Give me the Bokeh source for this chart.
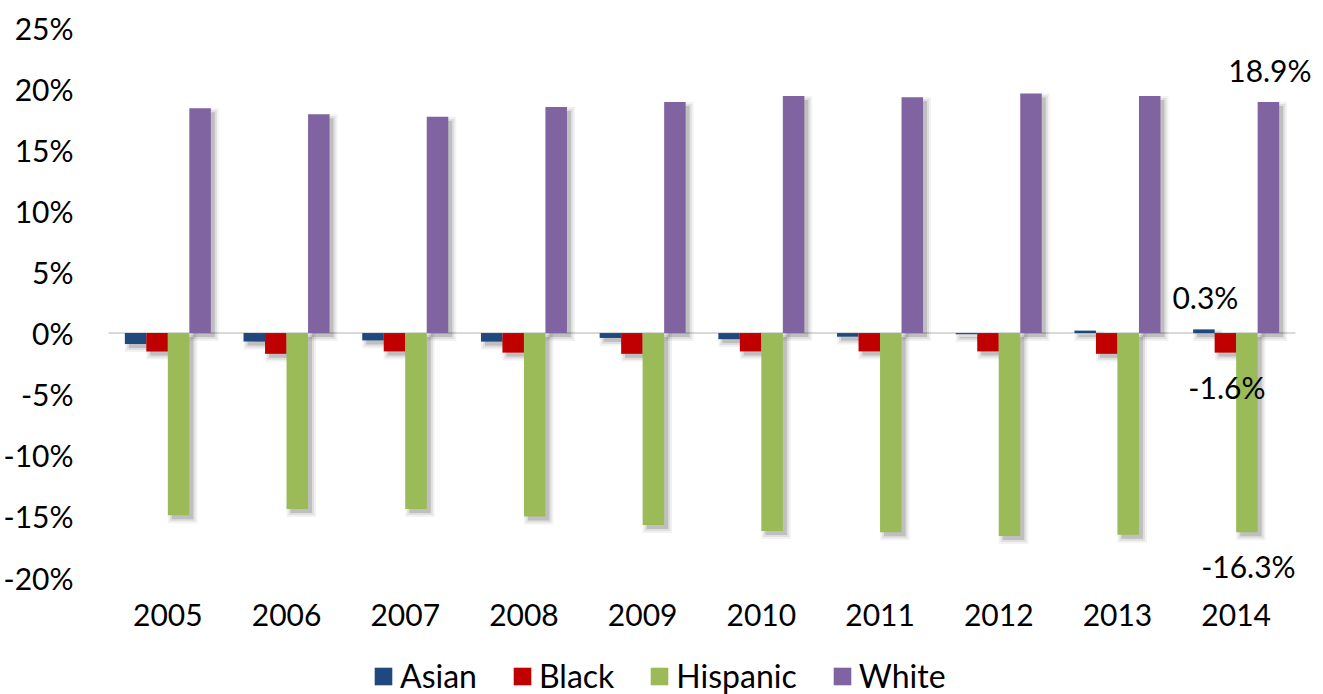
from bokeh.plotting import figure
from bokeh.models import Range1d, FixedTicker, PrintfTickFormatter, Legend, LegendItem, ColumnDataSource
from bokeh.core.properties import value
from bokeh.embed import file_html
from bokeh.resources import INLINE

# ---------------- data ----------------
years = ["2005", "2006", "2007", "2008", "2009", "2010", "2011", "2012", "2013", "2014"]
asian = [-0.9, -0.7, -0.6, -0.7, -0.4, -0.5, -0.3, -0.1, 0.2, 0.3]
black = [-1.5, -1.7, -1.5, -1.6, -1.7, -1.5, -1.5, -1.5, -1.7, -1.6]
hispanic = [-14.9, -14.4, -14.4, -15.0, -15.7, -16.2, -16.3, -16.6, -16.5, -16.3]
white = [18.4, 17.9, 17.7, 18.5, 18.9, 19.4, 19.3, 19.6, 19.4, 18.9]
series_names = ["Asian", "Black", "Hispanic", "White"]
series_values = [asian, black, hispanic, white]
colors = ["#1F497D", "#C00000", "#9BBB59", "#8064A2"]
y_ticks = [-20, -15, -10, -5, 0, 5, 10, 15, 20, 25]
labelled_year = "2014"

FONT = "Lato"
FS = "30px"
LEGEND_FS = "32px"

# ---------------- layout ----------------
W, H = 1323, 694
LEFT, TOP = 108, 27
AXIS_BOTTOM_PX = 577          # where the lowest tick sits
frame_w = W - LEFT
cat_px = 118.7
x_end = frame_w / cat_px
px_x = cat_px
px_y = (AXIS_BOTTOM_PX - TOP) / (y_ticks[-1] - y_ticks[0])
y_lo = y_ticks[0] - (H - AXIS_BOTTOM_PX) / px_y
bw = 21.5 / cat_px

p = figure(width=W, height=H, x_range=Range1d(0, x_end),
           y_range=Range1d(y_lo, y_ticks[-1]),
           output_backend="svg", toolbar_location=None,
           min_border_left=LEFT, min_border_right=0,
           min_border_top=TOP, min_border_bottom=0)
p.outline_line_color = None
p.xgrid.visible = False
p.ygrid.visible = False
p.background_fill_color = "white"
p.border_fill_color = "white"
p.xaxis.visible = False

n = len(years)
# zero line
p.segment(x0=[0], y0=[0], x1=[n], y1=[0], line_color="#D9D9D9", line_width=2)

# shadows
dx, dy = 4, 4
layers = [(4, 0.05), (2, 0.08), (0, 0.14)]
for i, vals in enumerate(series_values):
    xs = [j + 0.5 + (i - 1.5) * bw for j in range(n)]
    for e, a in layers:
        sx = [x + dx / px_x for x in xs]
        tops = [max(0, v) - dy / px_y + e / px_y for v in vals]
        bots = [min(0, v) - dy / px_y - e / px_y for v in vals]
        p.vbar(x=sx, width=bw + 2 * e / px_x, top=tops, bottom=bots,
               fill_color="black", fill_alpha=a, line_color=None)

renderers = []
for i, vals in enumerate(series_values):
    xs = [j + 0.5 + (i - 1.5) * bw for j in range(n)]
    r = p.vbar(x=xs, width=bw, top=vals, bottom=0, fill_color=colors[i], line_color=None)
    renderers.append(r)

# data labels for the last year
k = years.index(labelled_year)
lx = [k + 0.5 + (i - 1.5) * bw + 1.5 / px_x for i in range(len(series_values))]
ly = [vals[k] for vals in series_values]
lt = ["%.1f%%" % v for v in ly]
lo = [-32 if v > 0 else 34 for v in ly]
src = ColumnDataSource(dict(x=lx, y=ly, t=lt, o=lo))
p.text(x="x", y="y", text="t", y_offset="o", source=src, text_align="center",
       text_baseline="middle", text_font=value(FONT), text_font_size=FS, text_color="black")

# category labels (below the lowest tick)
centers = [j + 0.5 for j in range(n)]
p.text(x=centers, y=[y_ticks[0]] * n, text=years, y_offset=37, text_align="center",
       text_baseline="middle", text_font=value(FONT), text_font_size=FS, text_color="black")

# y axis
p.yaxis.ticker = FixedTicker(ticks=y_ticks)
p.yaxis.formatter = PrintfTickFormatter(format="%d%%")
p.yaxis.axis_line_color = None
p.yaxis.major_tick_line_color = None
p.yaxis.minor_tick_line_color = None
p.yaxis.major_label_standoff = 29
p.yaxis.major_label_text_font = FONT
p.yaxis.major_label_text_font_size = FS
p.yaxis.major_label_text_color = "black"

legend = Legend(items=[LegendItem(label=nm, renderers=[r]) for nm, r in zip(series_names, renderers)],
                location=(264, -1), orientation="horizontal",
                glyph_width=22, glyph_height=22, label_standoff=6, spacing=34,
                padding=0, margin=0, border_line_color=None, background_fill_alpha=0,
                label_text_font=FONT, label_text_font_size=LEGEND_FS, label_text_color="black")
p.add_layout(legend)

open("out.html", "w").write(file_html(p, INLINE))
